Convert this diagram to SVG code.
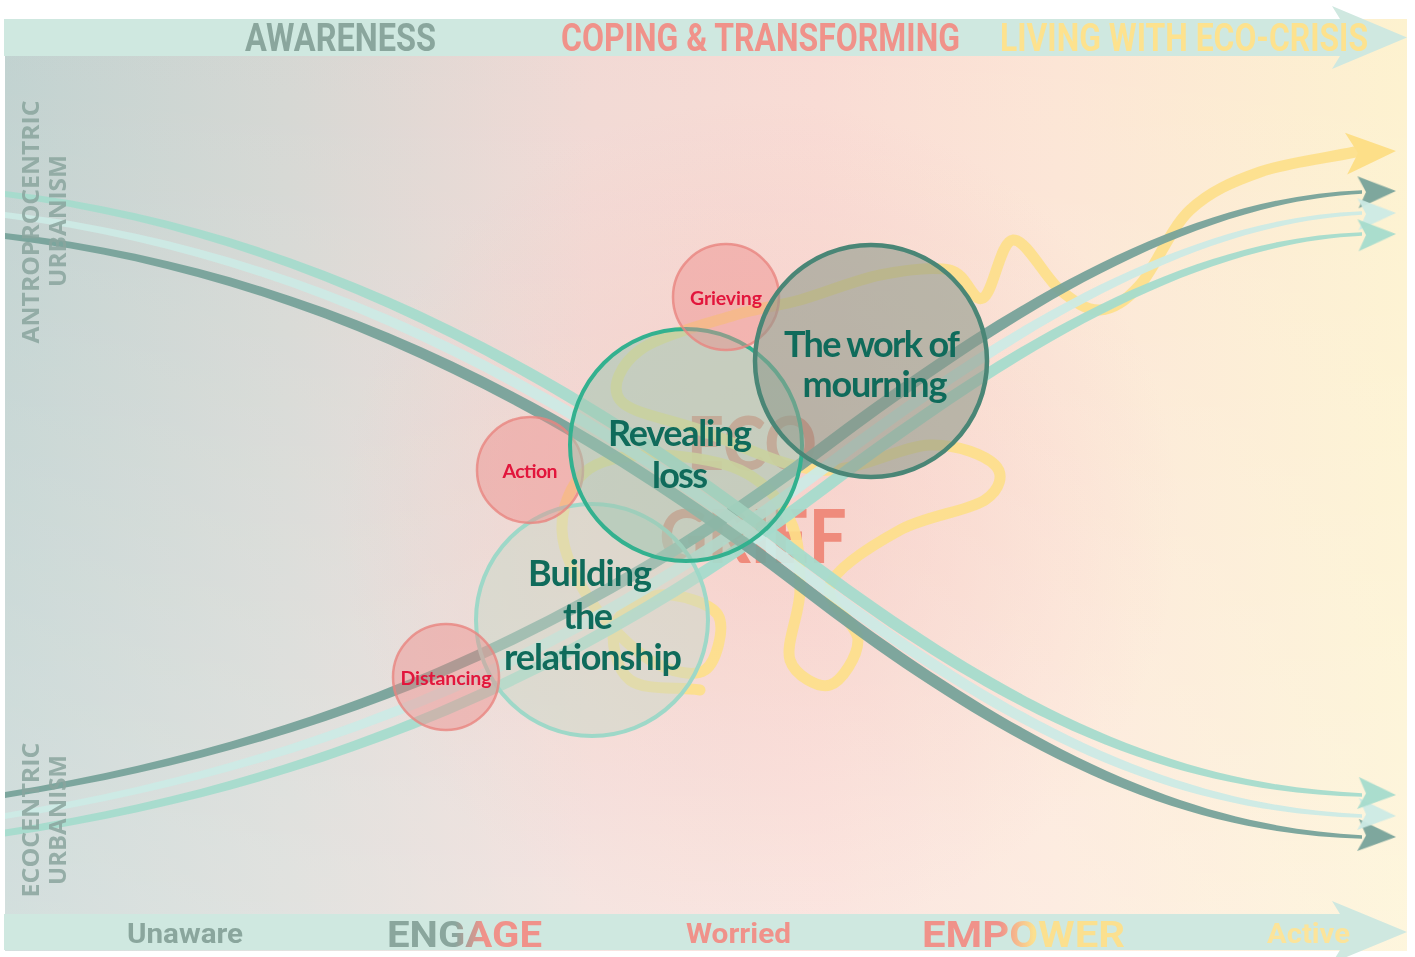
<svg xmlns="http://www.w3.org/2000/svg" width="1415" height="957" viewBox="0 0 1415 957">
  <style>
    .band { fill: #cfe8e0; }
    .bandTxt { font-family: Roboto, "Liberation Sans", sans-serif; font-weight: 700; }
    .side { font-family: "Open Sans", "Liberation Sans", sans-serif; font-weight: 700; font-size: 24px; fill: #8aa59e; opacity: 0.85; text-anchor: middle; }
    .big { font-family: Lato, "Liberation Sans", sans-serif; font-weight: 700; font-size: 36px; fill: #0f6b5b; text-anchor: middle; }
    .small { font-family: Lato, "Liberation Sans", sans-serif; font-weight: 700; font-size: 19.5px; fill: #e2163c; text-anchor: middle; }
    .pinkC { fill: #ed8c89; fill-opacity: 0.45; stroke: #e8857f; stroke-opacity: 0.8; stroke-width: 2.5; }
    .dark { fill: #78a39a; }
    .light { fill: #cdeae5; }
    .mint { fill: #a6dccd; }
    .flow { opacity: 0.95; }
    .grief { font-family: Lato, "Liberation Sans", sans-serif; font-weight: 900; font-size: 74px; fill: #ef8b7c; text-anchor: middle; }
  </style>
  <defs>
    <linearGradient id="bgH" x1="0" y1="0" x2="1" y2="0">
      <stop offset="0" stop-color="#c1d2d0"/>
      <stop offset="0.2" stop-color="#d5d7d3"/>
      <stop offset="0.42" stop-color="#f2d9d4"/>
      <stop offset="0.58" stop-color="#f9dbd4"/>
      <stop offset="0.75" stop-color="#fce5d5"/>
      <stop offset="1" stop-color="#fdf2cf"/>
    </linearGradient>
    <linearGradient id="bgV" x1="0" y1="0" x2="0" y2="1">
      <stop offset="0" stop-color="#ffffff" stop-opacity="0"/>
      <stop offset="1" stop-color="#ffffff" stop-opacity="0.3"/>
    </linearGradient>
    <radialGradient id="glow" cx="760" cy="520" r="420" gradientUnits="userSpaceOnUse">
      <stop offset="0" stop-color="#f3bcb4" stop-opacity="0.55"/>
      <stop offset="1" stop-color="#f3bcb4" stop-opacity="0"/>
    </radialGradient>
    <linearGradient id="gEngage" gradientUnits="userSpaceOnUse" x1="387" y1="0" x2="542" y2="0">
      <stop offset="0" stop-color="#8aa69d"/>
      <stop offset="0.44" stop-color="#8aa69d"/>
      <stop offset="0.62" stop-color="#f0928a"/>
      <stop offset="1" stop-color="#f0928a"/>
    </linearGradient>
    <linearGradient id="gEmpower" gradientUnits="userSpaceOnUse" x1="922" y1="0" x2="1125" y2="0">
      <stop offset="0" stop-color="#f0928a"/>
      <stop offset="0.38" stop-color="#f0928a"/>
      <stop offset="0.55" stop-color="#fbe08f"/>
      <stop offset="1" stop-color="#fbe08f"/>
    </linearGradient>
    <path id="ah" d="M0,0 L-38,-16 L-30,0 L-38,16 Z"/>
    <path id="ahBig" d="M0,0 L-50,-21 L-38,0 L-50,21 Z"/>
    <clipPath id="field"><rect x="5" y="0" width="1410" height="957"/></clipPath>
  </defs>

  <!-- background field -->
  <rect x="5" y="19" width="1402" height="932" fill="url(#bgH)"/>
  <rect x="5" y="19" width="1402" height="932" fill="url(#glow)"/>
  <rect x="5" y="19" width="1402" height="932" fill="url(#bgV)"/>

  <!-- central title -->
  <g id="eco-grief">
    <text class="grief" x="752" y="470" textLength="130" lengthAdjust="spacingAndGlyphs">ECO</text>
    <text class="grief" x="753" y="563" textLength="187" lengthAdjust="spacingAndGlyphs">GRIEF</text>
  </g>

  <!-- flows -->
  <g id="connectors" clip-path="url(#field)">
    <g id="tangle">
      <path fill="none" stroke="#fddf88" stroke-opacity="0.9" stroke-width="11" stroke-linecap="round" stroke-linejoin="round"
        d="M700,690 C676.7,686.7 644.2,690.8 630,680 C615.8,669.2 610,639.2 615,625 C620,610.8 642.8,596.7 660,595 C677.2,593.3 710.5,602.5 718,615 C725.5,627.5 716.3,662.5 705,670 C693.7,677.5 669.2,671.7 650,660 C630.8,648.3 604.7,621.7 590,600 C575.3,578.3 562.8,551.3 562,530 C561.2,508.7 570.3,484.5 585,472 C599.7,459.5 624.2,455.3 650,455 C675.8,454.7 716.7,459.2 740,470 C763.3,480.8 780,500 790,520 C800,540 800,566.7 800,590 C800,613.3 785,644.2 790,660 C795,675.8 818.7,688.3 830,685 C841.3,681.7 858,656.7 858,640 C858,623.3 823,603.3 830,585 C837,566.7 874.2,544.2 900,530 C925.8,515.8 969.2,510.8 985,500 C1000.8,489.2 1004.2,474.2 995,465 C985.8,455.8 959.2,444.2 930,445 C900.8,445.8 858.3,472.5 820,470 C781.7,467.5 733.3,441.7 700,430 C666.7,418.3 630,413.3 620,400 C610,386.7 620.8,364.2 640,350 C659.2,335.8 708.3,323.3 735,315 C761.7,306.7 775.8,306.7 800,300 C824.2,293.3 855,280 880,275 C905,270 932.8,266.2 950,270 C967.2,273.8 972.5,303 983,298 C993.5,293 1000.2,241.3 1013,240 C1025.8,238.7 1045.5,278.3 1060,290 C1074.5,301.7 1086.7,310.8 1100,310 C1113.3,309.2 1125,301.7 1140,285 C1155,268.3 1170,228.8 1190,210 C1210,191.2 1232.5,181.7 1260,172 C1287.5,162.3 1323.3,158.7 1355,152"/>
      <use href="#ahBig" transform="translate(1396,151) rotate(-3)" fill="#fddf88"/>
    </g>

    <!-- rising flows: ecocentric side -->
    <g id="rise-dark" class="flow">
      <path class="dark" d="M5,792 C350,735.5 600,607.5 820,442.5 C996,310.5 1180,196.5 1362,190.2 L1362,193.8 C1180,203.5 996,325.5 820,457.5 C600,622.5 350,744.5 5,798 Z"/>
      <use href="#ah" class="dark" transform="translate(1396,191) rotate(-2)"/>
    </g>
    <g id="rise-light" class="flow">
      <path class="light" d="M5,813 C350,756.5 600,629 820,464 C996,332 1180,217.5 1362,211.2 L1362,214.8 C1180,224.5 996,346 820,478 C600,643 350,765.5 5,819 Z"/>
      <use href="#ah" class="light" transform="translate(1396,213) rotate(-2)"/>
    </g>
    <g id="rise-mint" class="flow">
      <path class="mint" d="M5,829.5 C350,775.5 600,648.5 820,483.5 C996,351.5 1180,237.5 1362,232.2 L1362,235.8 C1180,244.5 996,366.5 820,498.5 C600,663.5 350,784.5 5,836.5 Z"/>
      <use href="#ah" class="mint" transform="translate(1396,234) rotate(-2)"/>
    </g>

    <!-- falling flows: antropocentric side -->
    <g id="fall-dark" class="flow">
      <path class="dark" d="M5,233 C300,265.5 560,392.5 800,577.5 C1040,762.5 1200,826.5 1362,835.2 L1362,838.8 C1200,833.5 1040,777.5 800,592.5 C560,407.5 300,274.5 5,239 Z"/>
      <use href="#ah" class="dark" transform="translate(1396,837) rotate(3)"/>
    </g>
    <g id="fall-light" class="flow">
      <path class="light" d="M5,212 C292,244.5 552,372 792,557 C1032,742 1192,805.5 1362,814.2 L1362,817.8 C1192,812.5 1032,756 792,571 C552,386 292,253.5 5,218 Z"/>
      <use href="#ah" class="light" transform="translate(1396,816) rotate(3)"/>
    </g>
    <g id="fall-mint" class="flow">
      <path class="mint" d="M5,191 C284,223.5 544,350.5 784,535.5 C1024,720.5 1184,784.5 1362,793.2 L1362,796.8 C1184,791.5 1024,735.5 784,550.5 C544,365.5 284,232.5 5,197 Z"/>
      <use href="#ah" class="mint" transform="translate(1396,795) rotate(3)"/>
    </g>
  </g>

  <!-- nodes -->
  <g id="building">
    <circle cx="592" cy="620" r="116" fill="#c8d8c8" fill-opacity="0.5" stroke="#9ed8c8" stroke-width="4"/>
    <text class="big" x="590" y="586" textLength="124">Building</text>
    <text class="big" x="588" y="629" textLength="50">the</text>
    <text class="big" x="593" y="670" textLength="178">relationship</text>
  </g>
  <g id="distancing">
    <circle class="pinkC" cx="446" cy="677" r="53"/>
    <text class="small" x="446" y="685" textLength="91">Distancing</text>
  </g>
  <g id="action">
    <circle class="pinkC" cx="530" cy="470" r="53"/>
    <text class="small" x="530" y="478" textLength="55">Action</text>
  </g>
  <g id="revealing">
    <circle cx="686" cy="445" r="116" fill="#9fc7b1" fill-opacity="0.55" stroke="#33b18f" stroke-width="4"/>
    <text class="big" x="680" y="446" textLength="144">Revealing</text>
    <text class="big" x="680" y="488" textLength="56">loss</text>
  </g>
  <g id="grieving">
    <circle class="pinkC" cx="726" cy="297" r="53"/>
    <text class="small" x="726" y="305" textLength="72">Grieving</text>
  </g>
  <g id="mourning">
    <circle cx="871" cy="361" r="116" fill="#8f9b8c" fill-opacity="0.6" stroke="#4a8676" stroke-width="4.5"/>
    <text class="big" x="872" y="357" textLength="176">The work of</text>
    <text class="big" x="875" y="397" textLength="145">mourning</text>
  </g>

  <!-- phase band -->
  <g id="phases">
    <polygon class="band" points="4,19 1340,19 1332,6 1407,37.5 1332,69 1340,56 4,56"/>
    <text class="bandTxt" x="245" y="51" font-size="38" fill="#8aa69d" textLength="191" lengthAdjust="spacingAndGlyphs">AWARENESS</text>
    <text class="bandTxt" x="561" y="51" font-size="38" fill="#f0928a" textLength="399" lengthAdjust="spacingAndGlyphs">COPING &amp; TRANSFORMING</text>
    <text class="bandTxt" x="1000" y="51" font-size="38" fill="#fde28e" textLength="368" lengthAdjust="spacingAndGlyphs">LIVING WITH ECO-CRISIS</text>
  </g>

  <!-- attitude band -->
  <g id="attitudes">
    <polygon class="band" points="4,914 1340,914 1332,901 1407,932 1332,963 1340,950 4,950"/>
    <text class="bandTxt" x="127" y="943" font-size="27" fill="#8aa69d" textLength="116" lengthAdjust="spacingAndGlyphs">Unaware</text>
    <text class="bandTxt" x="387" y="947" font-size="37" fill="url(#gEngage)" textLength="155" lengthAdjust="spacingAndGlyphs">ENGAGE</text>
    <text class="bandTxt" x="686" y="943" font-size="27" fill="#f0928a" textLength="105" lengthAdjust="spacingAndGlyphs">Worried</text>
    <text class="bandTxt" x="922" y="947" font-size="37" fill="url(#gEmpower)" textLength="203" lengthAdjust="spacingAndGlyphs">EMPOWER</text>
    <text class="bandTxt" x="1267" y="943" font-size="27" fill="#fce49a" textLength="83" lengthAdjust="spacingAndGlyphs">Active</text>
  </g>

  <!-- urbanism labels -->
  <g id="urbanism-labels">
    <text class="side" transform="translate(39,222) rotate(-90)" textLength="243" lengthAdjust="spacingAndGlyphs">ANTROPROCENTRIC</text>
    <text class="side" transform="translate(66,221) rotate(-90)" textLength="132" lengthAdjust="spacingAndGlyphs">URBANISM</text>
    <text class="side" transform="translate(39,820) rotate(-90)" textLength="155" lengthAdjust="spacingAndGlyphs">ECOCENTRIC</text>
    <text class="side" transform="translate(66,820) rotate(-90)" textLength="130" lengthAdjust="spacingAndGlyphs">URBANISM</text>
  </g>
</svg>
